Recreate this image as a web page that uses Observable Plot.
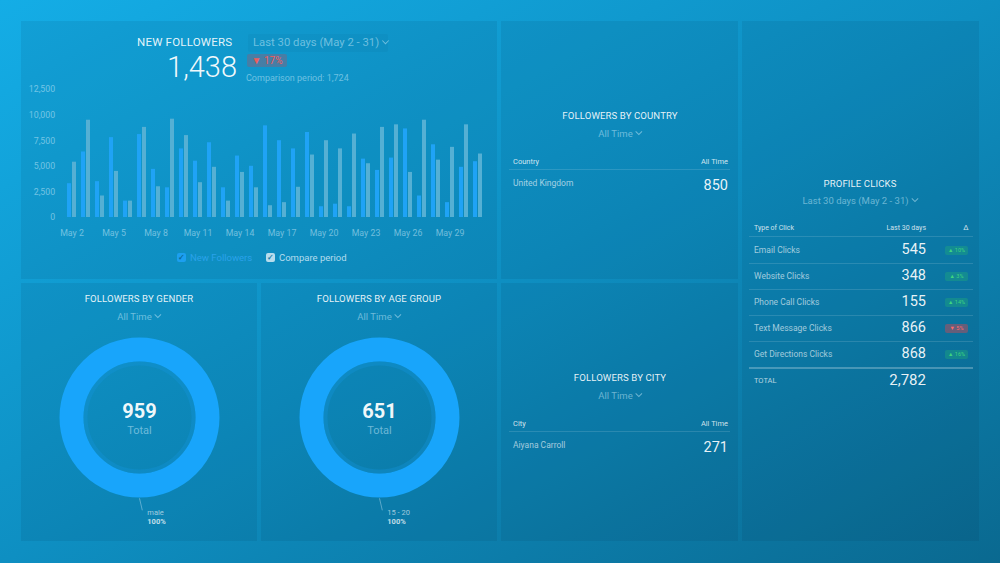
<!DOCTYPE html>
<html><head><meta charset="utf-8">
<script src="https://cdn.jsdelivr.net/npm/d3@7"></script>
<script src="https://cdn.jsdelivr.net/npm/@observablehq/plot@0.6"></script>
<style>
html,body{margin:0;padding:0;width:1000px;height:563px;overflow:hidden;font-family:Roboto,"Noto Sans",sans-serif;}
body{position:relative;background:linear-gradient(to bottom right,#14ade6 0%,#0e8fc2 50%,#0a6990 100%);}
.panel{position:absolute;background:rgba(0,20,50,0.08);}
.t{position:absolute;white-space:nowrap;line-height:1;}
.abs{position:absolute;}
.chev{display:inline-block;width:4px;height:4px;border-right:1.3px solid currentColor;border-bottom:1.3px solid currentColor;transform:rotate(45deg);margin-left:4px;position:relative;top:-3px;}
.hr{position:absolute;height:1px;background:rgba(255,255,255,0.13);}
.badge{position:absolute;border-radius:2px;font-size:5.5px;line-height:9px;height:9px;text-align:center;}
.cb{position:absolute;width:9px;height:9px;border-radius:2px;font-size:8px;line-height:9px;text-align:center;font-weight:bold;}
</style></head><body>
<script>
// ---------- DATA ----------
const days = ["May 2","May 3","May 4","May 5","May 6","May 7","May 8","May 9","May 10","May 11","May 12","May 13","May 14","May 15","May 16","May 17","May 18","May 19","May 20","May 21","May 22","May 23","May 24","May 25","May 26","May 27","May 28","May 29","May 30","May 31"];
const newFollowers = [3300,6400,3500,7800,1600,8100,4700,2900,6700,5500,7300,2900,6000,5000,8950,7500,6700,8300,1050,1300,1050,5700,4600,5800,8650,2100,7100,1450,4900,5450];
const comparePeriod = [5400,9500,2100,4500,1600,8800,3000,9600,8000,3400,4900,1600,4400,2900,1150,1450,2950,6100,7500,6700,8150,5250,8800,9050,4400,9500,5600,6850,9050,6200];
const seriesNames = ["New Followers","Compare period"];
const yTicks = [0,2500,5000,7500,10000,12500];
const newFollowersTotal = 1438;
const comparisonTotal = 1724;
const changePct = -17;

const countries = ["United Kingdom"];
const countryValues = [850];
const cities = ["Aiyana Carroll"];
const cityValues = [271];

const genders = ["male"];
const genderValues = [959];
const ageGroups = ["15 - 20"];
const ageValues = [651];

const clickTypes = ["Email Clicks","Website Clicks","Phone Call Clicks","Text Message Clicks","Get Directions Clicks"];
const clickValues = [545,348,155,866,868];
const clickDeltas = [10,3,14,-5,16];

// ---------- HELPERS ----------
const fmt = d3.format(",");
function T(text,x,y,o={}){
  const el=document.createElement("div");
  el.className="t";
  el.textContent=text;
  const a=o.align||"left";
  el.style.left=x+"px";el.style.top=y+"px";
  el.style.fontSize=(o.size||9)+"px";
  el.style.color=o.color||"rgba(255,255,255,0.85)";
  if(o.weight)el.style.fontWeight=o.weight;
  if(o.ls)el.style.letterSpacing=o.ls;
  const tx=a==="center"?"-50%":a==="right"?"-100%":"0";
  el.style.transform=`translate(${tx},-50%)`;
  if(o.chev){const c=document.createElement("span");c.className="chev";el.appendChild(c);}
  document.body.appendChild(el);
  return el;
}
function box(x,y,w,h,cls,style={}){
  const el=document.createElement("div");el.className=cls;
  Object.assign(el.style,{left:x+"px",top:y+"px",width:w+"px",height:h+"px"},style);
  document.body.appendChild(el);return el;
}
function place(node,x,y){
  const w=document.createElement("div");w.className="abs";w.style.left=x+"px";w.style.top=y+"px";
  w.appendChild(node);document.body.appendChild(w);
}
const dim="rgba(205,238,252,0.5)";
const title="rgba(255,255,255,0.9)";

// ---------- PANELS ----------
[[21,21,476,258],[501,21,237,258],[742,21,237,520],[21,283,236,258],[261,283,236,258],[501,283,237,258]]
  .forEach(([x,y,w,h])=>box(x,y,w,h,"panel"));

// ---------- NEW FOLLOWERS ----------
T("NEW FOLLOWERS",137,43,{size:11.5,color:title,ls:"0.2px"});
box(248,34,140,18,"abs",{background:"rgba(0,50,90,0.05)",borderRadius:"2px"});
T("Last 30 days (May 2 - 31)",253,43,{size:11.3,color:dim,chev:true});
T(fmt(newFollowersTotal),237,67,{size:29,color:"rgba(255,255,255,0.95)",align:"right",weight:300});
box(247,54,40,13,"abs",{background:"rgba(200,70,80,0.3)",borderRadius:"2px"});
T((changePct<0?"▼ ":"▲ ")+Math.abs(changePct)+"%",267,61,{size:10,color:"#ef5d5d",align:"center"});
T("Comparison period: "+fmt(comparisonTotal),246,78,{size:9,color:dim});

const barData = days.flatMap((d,i)=>[
  {day:d,series:seriesNames[0],value:newFollowers[i]},
  {day:d,series:seriesNames[1],value:comparePeriod[i]}
]);
const bar = Plot.plot({
  width:476,height:160,marginLeft:36,marginRight:6,marginTop:7,marginBottom:25,
  style:{background:"transparent",color:"rgba(215,240,252,0.5)",fontFamily:"Roboto",fontSize:"8.8px",overflow:"visible"},
  x:{domain:days,padding:0.39,tickSize:0,tickPadding:12,label:null,
      tickFormat:d=>days.indexOf(d)%3===0?d:""},
  y:{domain:[0,12500],ticks:yTicks,tickSize:0,tickPadding:2.3,label:null,tickFormat:fmt},
  color:{domain:seriesNames,range:["#1fa3f6","#55b0d4"]},
  marks:[
    Plot.barY(barData.filter(d=>d.series===seriesNames[0]),{x:"day",y:"value",fill:"series",insetRight:5}),
    Plot.barY(barData.filter(d=>d.series===seriesNames[1]),{x:"day",y:"value",fill:"series",insetLeft:5})
  ]
});
place(bar,21,82);

box(177,253,9,9,"cb",{background:"#1c9ff0",color:"#0b6a9a"}).textContent="✓";
T(seriesNames[0],190,258,{size:9.5,color:"#2aa2ea"});
box(266,253,9,9,"cb",{background:"rgba(225,240,248,0.8)",color:"#1a7ea8"}).textContent="✓";
T(seriesNames[1],279,258,{size:9.5,color:"rgba(235,248,255,0.75)"});

// ---------- TABLE PANELS ----------
function simpleTable(cx,top,ttl,colName,names,vals,left,right){
  T(ttl,cx,top,{size:9.6,color:title,align:"center",ls:"0.1px"});
  T("All Time",cx,top+18,{size:9.5,color:dim,align:"center",chev:true});
  T(colName,left,top+46,{size:7.5,color:"rgba(255,255,255,0.8)"});
  T("All Time",right,top+46,{size:7.5,color:"rgba(255,255,255,0.8)",align:"right"});
  box(left-4,top+53,right-left+6,1,"hr");
  names.forEach((n,i)=>{
    T(n,left,top+67+i*26,{size:8.5,color:"rgba(255,255,255,0.62)"});
    T(fmt(vals[i]),right,top+70+i*26,{size:14.5,color:"rgba(255,255,255,0.92)",align:"right"});
  });
}
simpleTable(620,116,"FOLLOWERS BY COUNTRY","Country",countries,countryValues,513,728);
simpleTable(620,378,"FOLLOWERS BY CITY","City",cities,cityValues,513,728);

// ---------- PROFILE CLICKS ----------
T("PROFILE CLICKS",860,184,{size:9.6,color:title,align:"center",ls:"0.1px"});
T("Last 30 days (May 2 - 31)",860,201,{size:9.5,color:dim,align:"center",chev:true});
T("Type of Click",754,228,{size:7,color:"rgba(255,255,255,0.8)"});
T("Last 30 days",926,228,{size:7,color:"rgba(255,255,255,0.8)",align:"right"});
T("Δ",966,228,{size:7.5,color:"rgba(255,255,255,0.8)",align:"center"});
box(749,236,224,1,"hr");
clickTypes.forEach((n,i)=>{
  const y=250+i*26;
  T(n,754,y,{size:8.5,color:"rgba(255,255,255,0.62)"});
  T(fmt(clickValues[i]),926,y,{size:14.5,color:"rgba(255,255,255,0.92)",align:"right"});
  const up=clickDeltas[i]>=0;
  const b=box(945,y-4.5,23,9,"badge",{background:up?"rgba(40,190,110,0.30)":"rgba(210,70,80,0.45)",color:up?"#3fd47f":"#ff6b6b"});
  b.textContent=(up?"▲ ":"▼ ")+Math.abs(clickDeltas[i])+"%";
  if(i<clickTypes.length-1)box(749,y+13,224,1,"hr");
});
box(749,367,224,1.5,"hr",{background:"rgba(255,255,255,0.25)"});
T("TOTAL",754,381,{size:7.5,color:"rgba(255,255,255,0.7)"});
T(fmt(d3.sum(clickValues)),926,380,{size:15,color:"rgba(255,255,255,0.92)",align:"right"});

// ---------- DONUTS ----------
function donut(px,py,ttl,labels,values){
  T(ttl,px+118,py+16,{size:9.6,color:title,align:"center",ls:"0.1px"});
  T("All Time",px+118,py+34,{size:9.5,color:dim,align:"center",chev:true});
  const total=d3.sum(values);
  let acc=0;
  const slices=labels.map((l,i)=>{const s=acc/total,e=(acc+values[i])/total;acc+=values[i];
    const mid=(s+e)/2*2*Math.PI;return {label:l,share:values[i]/total,sx:Math.sin(mid),sy:Math.cos(mid)};});
  const plot=Plot.plot({
    width:236,height:258,margin:0,
    style:{background:"transparent",fontFamily:"Roboto",overflow:"visible"},
    x:{domain:[-1.475,1.475],range:[0,236],axis:null},
    y:{domain:[-1.55,1.675],range:[258,0],axis:null},
    marks:[
      Plot.dot(slices,{x:0,y:0,r:68,stroke:"#18a5fb",strokeWidth:24,fill:"none"}),
      Plot.dot(slices,{x:0,y:0,r:54,stroke:"rgba(20,150,220,0.35)",strokeWidth:4,fill:"none"}),
      Plot.text([total],{x:0,y:0,text:d=>fmt(d),dy:-6,fontSize:20,fontWeight:"bold",fill:"rgba(255,255,255,0.95)"}),
      Plot.text(["Total"],{x:0,y:0,text:d=>d,dy:13,fontSize:11,fill:"rgba(205,238,252,0.5)"}),
      Plot.link(slices,{x1:d=>d.sx*1.01,y1:d=>d.sy*1.01,x2:d=>d.sx*1.16+0.035,y2:d=>d.sy*1.16,stroke:"rgba(210,235,250,0.5)",strokeWidth:0.8}),
      Plot.text(slices,{x:d=>d.sx*1.16+0.035,y:d=>d.sy*1.16,text:"label",dx:5,dy:2,textAnchor:"start",fontSize:7.5,fill:"rgba(255,255,255,0.6)"}),
      Plot.text(slices,{x:d=>d.sx*1.16+0.035,y:d=>d.sy*1.16,text:d=>Math.round(d.share*100)+"%",dx:5,dy:11,textAnchor:"start",fontSize:7.5,fontWeight:"bold",fill:"rgba(255,255,255,0.75)"})
    ]
  });
  place(plot,px,py);
}
donut(21,283,"FOLLOWERS BY GENDER",genders,genderValues);
donut(261,283,"FOLLOWERS BY AGE GROUP",ageGroups,ageValues);
</script>
</body></html>
